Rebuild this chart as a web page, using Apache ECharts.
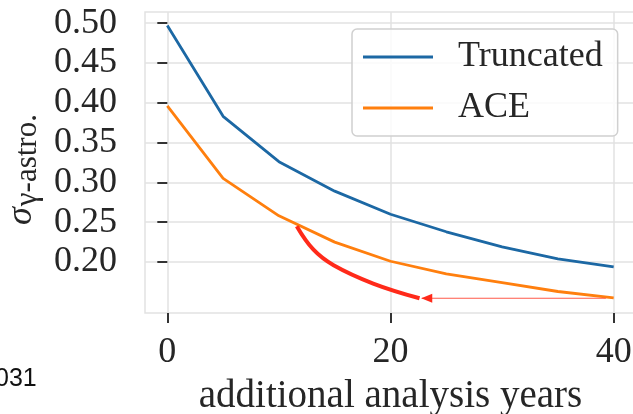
<!DOCTYPE html>
<html>
<head>
<meta charset="utf-8">
<script src="https://cdn.jsdelivr.net/npm/echarts@6/dist/echarts.min.js"></script>
<style>
  html, body { margin: 0; padding: 0; background: #fff; }
  #chart { width: 633px; height: 414px; }
</style>
</head>
<body>
<div id="chart"></div>
<script>
// values
const years = [0, 5, 10, 15, 20, 25, 30, 35, 40];
const truncated = [0.497, 0.383, 0.326, 0.289, 0.260, 0.238, 0.219, 0.204, 0.194];
const ace = [0.396, 0.305, 0.258, 0.225, 0.201, 0.185, 0.174, 0.163, 0.155];

// red annotation curve and arrow
const redX = [11.6, 13.1, 14.9, 18.45, 22.6];
const redY = [0.245, 0.2155, 0.196, 0.173, 0.1545];
const arrowX = [39.3, 22.8];
const arrowY = [0.1545, 0.1545];

const yTicks = [0.20, 0.25, 0.30, 0.35, 0.40, 0.45, 0.50];
const xTicks = [0, 20, 40];

const serif = '"Liberation Serif", "DejaVu Serif", serif';
const ink = '#262626';
const frame = '#e2e2e2';

const chart = echarts.init(document.getElementById('chart'));

const pairs = (xs, ys) => xs.map((x, i) => [x, ys[i]]);

chart.setOption({
  animation: false,
  grid: {
    left: 145, top: 12, right: -3, bottom: 101,
    outerBoundsMode: 'none', containLabel: false,
    show: true, borderColor: frame, borderWidth: 1.5
  },
  legend: {
    data: ['Truncated', 'ACE'],
    orient: 'vertical',
    left: 352, top: 29,
    padding: [10, 15, 10, 11],
    icon: 'rect',
    itemWidth: 70, itemHeight: 3, itemGap: 15,
    backgroundColor: 'rgba(255,255,255,0.85)',
    borderColor: '#d0d0d0', borderWidth: 1.5, borderRadius: 5,
    textStyle: { fontFamily: serif, fontSize: 36, color: ink, lineHeight: 36, padding: [0, 0, 0, 20] }
  },
  xAxis: {
    type: 'value', min: -2, max: 42,
    name: 'additional analysis years',
    nameLocation: 'middle', nameGap: 64,
    nameTextStyle: { fontFamily: serif, fontSize: 39, color: ink },
    axisLine: { show: false },
    axisTick: { show: true, customValues: xTicks, length: 10, lineStyle: { color: '#333', width: 2 } },
    axisLabel: { customValues: xTicks, fontFamily: serif, fontSize: 36, color: ink, margin: 22 },
    splitLine: { show: true, lineStyle: { color: frame, width: 1.5 } }
  },
  yAxis: {
    type: 'value', min: 0.136, max: 0.514,
    name: '{s|σ}{b|γ-astro.}',
    nameLocation: 'middle', nameRotate: 90, nameGap: 96,
    nameTextStyle: {
      rich: {
        s: { fontFamily: serif, fontStyle: 'italic', fontSize: 36, color: ink, lineHeight: 40, verticalAlign: 'top' },
        b: { fontFamily: serif, fontSize: 31, color: ink, lineHeight: 40, verticalAlign: 'bottom', padding: [7, 14, 0, 1] }
      }
    },
    axisLine: { show: false },
    axisTick: { show: true, customValues: yTicks, length: 10, lineStyle: { color: '#333', width: 2 } },
    axisLabel: {
      customValues: yTicks, fontFamily: serif, fontSize: 36, color: ink, margin: 28,
      formatter: v => v.toFixed(2)
    },
    splitLine: { show: true, lineStyle: { color: frame, width: 1.5 } }
  },
  series: [
    {
      name: 'Truncated', type: 'line', data: pairs(years, truncated),
      symbol: 'none', color: '#1c68a4', lineStyle: { width: 2.8 }
    },
    {
      name: 'ACE', type: 'line', data: pairs(years, ace),
      symbol: 'none', color: '#ff7f0e', lineStyle: { width: 2.8 }
    },
    {
      name: 'shift', type: 'line', data: pairs(redX, redY), smooth: 0.4,
      symbol: 'none', color: '#ff2a1a', lineStyle: { width: 4 }, silent: true, z: 3
    },
    {
      name: 'arrow', type: 'line', silent: true, z: 3,
      color: '#ff5a4a', lineStyle: { width: 1.2 },
      data: [
        { value: [arrowX[0], arrowY[0]], symbol: 'none' },
        { value: [arrowX[1], arrowY[1]], symbol: 'triangle', symbolSize: [9, 11], symbolRotate: 90,
          symbolOffset: [5, 0], itemStyle: { color: '#ff2a1a' } }
      ]
    }
  ],
  graphic: [
    { type: 'text', left: -5, top: 367, style: { text: '031', font: '25px "Liberation Sans", Arial, sans-serif', fill: '#111' } }
  ]
});
</script>
</body>
</html>
